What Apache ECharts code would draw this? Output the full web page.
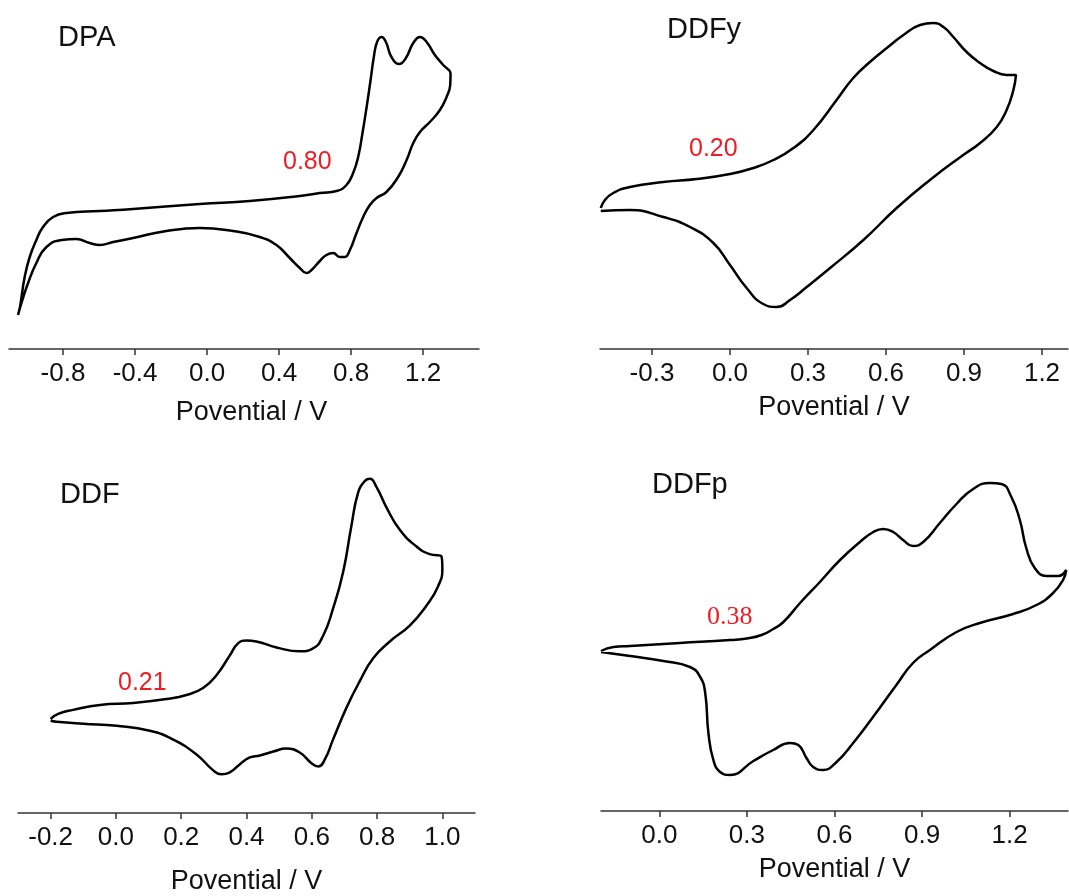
<!DOCTYPE html>
<html>
<head>
<meta charset="utf-8">
<script src="https://cdn.jsdelivr.net/npm/echarts@6/dist/echarts.min.js"></script>
<style>
html,body{margin:0;padding:0;background:#fff;}
#chart{width:1069px;height:896px;}
</style>
</head>
<body>
<div id="chart"></div>
<script>
// ---- DATA (potential in V, current in arbitrary units) ----
const panelNames = ['DPA', 'DDFy', 'DDF', 'DDFp'];
const onsetLabels = ['0.80', '0.20', '0.21', '0.38'];
const axisTitle = 'Povential / V';

const ticksDPA = [-0.8, -0.4, 0.0, 0.4, 0.8, 1.2];
const ticksDDFy = [-0.3, 0.0, 0.3, 0.6, 0.9, 1.2];
const ticksDDF = [-0.2, 0.0, 0.2, 0.4, 0.6, 0.8, 1.0];
const ticksDDFp = [0.0, 0.3, 0.6, 0.9, 1.2];

const dpaE = [-1.05,-1.039,-1.013,-0.985,-0.948,-0.911,-0.855,-0.781,-0.596,-0.411,-0.041,0.237,0.515,0.626,0.719,0.774,0.811,0.839,0.863,0.886,0.908,0.926,0.944,0.969,0.993,1.024,1.067,1.104,1.145,1.182,1.219,1.265,1.311,1.352,
  1.35,1.33,1.293,1.237,1.182,1.145,1.108,1.061,0.996,0.941,0.904,0.867,0.83,0.793,0.765,0.737,0.70,0.663,0.626,0.58,0.552,0.515,0.459,0.385,0.293,0.144,-0.041,-0.226,-0.411,-0.522,-0.596,-0.652,-0.726,-0.807,-0.892,-0.948,-0.994,-1.031,-1.05];
const dpaI = [3.4,4.2,7.2,9.2,10.9,12.2,13.2,13.6,13.8,14.0,14.5,14.8,15.3,15.6,15.8,16.4,17.6,19.2,21.6,24.2,26.9,29.2,30.7,31.2,30.7,29.2,28.5,29.1,30.6,31.2,30.7,29.4,28.4,27.5,
  26.4,25.2,23.9,22.7,21.7,20.6,18.9,17.2,15.7,15.1,14.4,13.2,11.6,9.9,9.2,9.2,9.6,9.4,8.8,7.9,7.6,8.1,9.1,10.4,11.2,11.8,12.1,11.8,11.1,10.7,10.4,10.6,11.0,10.9,10.2,8.6,6.6,4.6,3.4];

const ddfyE = [-0.497,-0.481,-0.449,-0.385,-0.256,-0.128,0.0,0.09,0.167,0.244,0.321,0.41,0.474,0.538,0.603,0.667,0.731,0.782,0.821,0.859,0.91,0.962,1.013,1.064,1.10,
  1.09,1.064,1.026,0.962,0.897,0.769,0.641,0.513,0.385,0.295,0.231,0.179,0.128,0.064,0.0,-0.064,-0.154,-0.256,-0.385,-0.497];
const ddfyI = [14.1,14.9,15.6,16.2,16.7,17.0,17.5,18.1,18.9,20.1,21.9,24.9,27.1,28.7,30.1,31.4,32.4,32.6,32.2,31.2,29.7,28.6,27.8,27.4,27.4,
  25.9,23.9,22.2,20.6,19.4,16.9,14.1,10.9,8.1,6.2,4.9,4.2,4.5,6.1,8.4,10.6,12.2,13.2,13.9,13.8];

const ddfE = [-0.2,-0.177,-0.131,-0.049,0.053,0.155,0.216,0.267,0.308,0.349,0.374,0.4,0.43,0.492,0.563,0.604,0.635,0.665,0.696,0.721,0.742,0.763,0.778,0.798,0.829,0.869,0.92,0.961,0.997,
  1.0,0.986,0.951,0.9,0.839,0.788,0.747,0.706,0.665,0.64,0.62,0.6,0.563,0.522,0.482,0.441,0.41,0.379,0.349,0.323,0.298,0.247,0.176,0.104,0.002,-0.1,-0.182,-0.2];
const ddfI = [9.5,10.0,10.4,10.9,11.1,11.5,11.9,12.6,13.9,15.9,17.1,17.4,17.3,16.7,16.3,16.6,17.9,20.6,24.3,28.9,32.3,33.5,33.7,32.9,30.8,28.6,26.9,26.1,25.9,
  24.6,22.8,20.9,18.9,17.3,15.6,13.3,10.6,7.4,5.4,4.7,5.0,6.1,6.5,6.2,5.8,5.6,4.9,4.1,3.9,4.3,5.9,7.4,8.3,8.8,9.0,9.2,9.3];

const ddfpE = [-0.2,-0.157,-0.1,0.071,0.242,0.30,0.35,0.39,0.425,0.482,0.55,0.619,0.687,0.733,0.767,0.801,0.835,0.869,0.904,0.961,1.018,1.075,1.132,1.172,1.206,1.235,1.257,1.286,1.326,1.366,1.394,
  1.383,1.349,1.292,1.212,1.098,1.018,0.927,0.869,0.812,0.732,0.664,0.607,0.561,0.527,0.504,0.476,0.447,0.39,0.322,0.242,0.208,0.185,0.168,0.157,0.14,0.105,0.014,-0.1,-0.2];
const ddfpI = [16.0,16.4,16.5,16.8,17.1,17.25,17.6,18.2,18.9,20.8,22.9,25.1,26.9,27.9,28.2,27.9,27.1,26.5,26.9,28.8,30.7,32.2,32.8,32.7,31.4,29.1,26.3,24.3,23.5,23.5,24.1,
  23.1,21.8,20.6,19.7,18.8,17.9,16.1,14.8,12.6,9.4,6.8,4.9,4.1,4.4,5.3,6.6,6.8,6.1,5.0,3.6,3.9,5.1,7.8,11.8,13.4,14.4,15.0,15.5,15.9];

// ---- BUILD ----
function zip(a, b) { const n = Math.min(a.length, b.length); const r = []; for (let i = 0; i < n; i++) r.push([a[i], b[i]]); return r; }

const SANS = "'Liberation Sans', Arial, Helvetica, sans-serif";
const SERIF = "'Liberation Serif', 'Times New Roman', serif";

const panels = [
  { E: dpaE, I: dpaI, ticks: ticksDPA, xmin: -1.1, xmax: 1.51, ymax: 34.9, grid: {left: 9, top: 0, width: 470, height: 349}, nameGap: 50, namePad: 15 },
  { E: ddfyE, I: ddfyI, ticks: ticksDDFy, xmin: -0.5, xmax: 1.3, ymax: 34.9, grid: {left: 600, top: 0, width: 468, height: 349}, nameGap: 45, namePad: 0 },
  { E: ddfE, I: ddfI, ticks: ticksDDF, xmin: -0.3, xmax: 1.1, ymax: 35.6, grid: {left: 18, top: 460, width: 457, height: 356}, nameGap: 55, namePad: 0 },
  { E: ddfpE, I: ddfpI, ticks: ticksDDFp, xmin: -0.2, xmax: 1.4, ymax: 35.1, grid: {left: 601, top: 460, width: 467, height: 351}, nameGap: 45, namePad: 0 }
];

const option = {
  animation: false,
  backgroundColor: '#ffffff',
  grid: panels.map(p => p.grid),
  xAxis: panels.map((p, i) => ({
    type: 'value', gridIndex: i, min: p.xmin, max: p.xmax,
    name: axisTitle, nameLocation: 'middle', nameGap: p.nameGap,
    nameTextStyle: { fontFamily: SANS, fontSize: 27, color: '#111', padding: [0, 0, 0, p.namePad] },
    axisLine: { show: true, onZero: false, lineStyle: { color: '#333', width: 1.5 } },
    axisTick: { show: true, inside: false, length: 6, customValues: p.ticks, lineStyle: { color: '#333', width: 1.5 } },
    axisLabel: { show: true, margin: 12, fontFamily: SANS, fontSize: 26, color: '#111', customValues: p.ticks,
      formatter: v => Number(v).toFixed(1) },
    splitLine: { show: false }
  })),
  yAxis: panels.map((p, i) => ({
    type: 'value', gridIndex: i, min: 0, max: p.ymax, show: false, splitLine: { show: false }
  })),
  series: panels.map((p, i) => ({
    type: 'line', xAxisIndex: i, yAxisIndex: i, data: zip(p.E, p.I),
    showSymbol: false, symbol: 'none', smooth: 0.5,
    lineStyle: { color: '#000', width: 2.5 }
  })),
  graphic: [
    { type: 'text', x: 58, y: 38, style: { text: panelNames[0], font: '29px ' + SANS, fill: '#111', align: 'left', verticalAlign: 'middle' } },
    { type: 'text', x: 667, y: 30, style: { text: panelNames[1], font: '29px ' + SANS, fill: '#111', align: 'left', verticalAlign: 'middle' } },
    { type: 'text', x: 60, y: 495, style: { text: panelNames[2], font: '29px ' + SANS, fill: '#111', align: 'left', verticalAlign: 'middle' } },
    { type: 'text', x: 652, y: 485, style: { text: panelNames[3], font: '29px ' + SANS, fill: '#111', align: 'left', verticalAlign: 'middle' } },
    { type: 'text', x: 283, y: 162, style: { text: onsetLabels[0], font: '25px ' + SANS, fill: '#ee1c24', align: 'left', verticalAlign: 'middle' } },
    { type: 'text', x: 689, y: 149, style: { text: onsetLabels[1], font: '25px ' + SANS, fill: '#ee1c24', align: 'left', verticalAlign: 'middle' } },
    { type: 'text', x: 118, y: 683, style: { text: onsetLabels[2], font: '25px ' + SANS, fill: '#ee1c24', align: 'left', verticalAlign: 'middle' } },
    { type: 'text', x: 707, y: 617, style: { text: onsetLabels[3], font: '26px ' + SERIF, fill: '#ee1c24', align: 'left', verticalAlign: 'middle' } }
  ]
};

const chart = echarts.init(document.getElementById('chart'), null, { renderer: 'canvas' });
chart.setOption(option);
</script>
</body>
</html>
